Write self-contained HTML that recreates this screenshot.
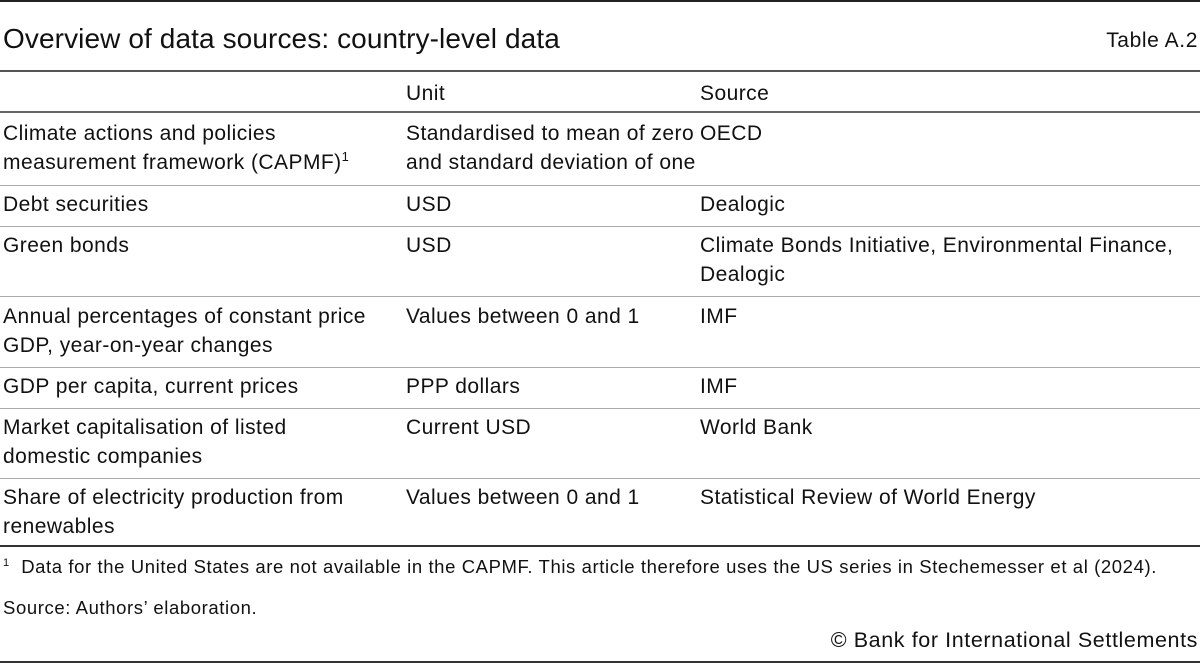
<!DOCTYPE html>
<html><head><meta charset="utf-8"><style>
body{margin:0;width:1200px;height:664px;position:relative;background:#fff;font-family:"Liberation Sans",sans-serif;color:#111;overflow:hidden}
.t{position:absolute;font-size:21px;letter-spacing:0.45px;line-height:29px;white-space:nowrap}
.l{position:absolute;left:0;width:1200px}
sup{font-size:13px;vertical-align:8px;line-height:0}
.f{font-size:18.5px;letter-spacing:0.6px;line-height:24px}
</style></head><body>
<div class="l" style="top:0;height:2px;background:#222"></div>
<div class="t" style="left:3px;top:22px;font-size:28px;letter-spacing:0.1px;line-height:34px">Overview of data sources: country-level data</div>
<div class="t" style="right:2px;top:26px;font-size:21px;letter-spacing:0.6px">Table A.2</div>
<div class="l" style="top:70px;height:2px;background:#555"></div>
<div class="t" style="left:406px;top:79px">Unit</div>
<div class="t" style="left:700px;top:79px">Source</div>
<div class="l" style="top:111px;height:2px;background:#666"></div>

<div class="t" style="left:3px;top:119px">Climate actions and policies<br>measurement framework (CAPMF)<sup>1</sup></div>
<div class="t" style="left:406px;top:119px">Standardised to mean of zero<br>and standard deviation of one</div>
<div class="t" style="left:700px;top:119px">OECD</div>
<div class="l" style="top:185px;height:1px;background:#aaa"></div>

<div class="t" style="left:3px;top:190px">Debt securities</div>
<div class="t" style="left:406px;top:190px">USD</div>
<div class="t" style="left:700px;top:190px">Dealogic</div>
<div class="l" style="top:226px;height:1px;background:#aaa"></div>

<div class="t" style="left:3px;top:231px">Green bonds</div>
<div class="t" style="left:406px;top:231px">USD</div>
<div class="t" style="left:700px;top:231px">Climate Bonds Initiative, Environmental Finance,<br>Dealogic</div>
<div class="l" style="top:296px;height:1px;background:#aaa"></div>

<div class="t" style="left:3px;top:302px">Annual percentages of constant price<br>GDP, year-on-year changes</div>
<div class="t" style="left:406px;top:302px">Values between 0 and 1</div>
<div class="t" style="left:700px;top:302px">IMF</div>
<div class="l" style="top:367px;height:1px;background:#aaa"></div>

<div class="t" style="left:3px;top:372px">GDP per capita, current prices</div>
<div class="t" style="left:406px;top:372px">PPP dollars</div>
<div class="t" style="left:700px;top:372px">IMF</div>
<div class="l" style="top:408px;height:1px;background:#aaa"></div>

<div class="t" style="left:3px;top:413px">Market capitalisation of listed<br>domestic companies</div>
<div class="t" style="left:406px;top:413px">Current USD</div>
<div class="t" style="left:700px;top:413px">World Bank</div>
<div class="l" style="top:478px;height:1px;background:#aaa"></div>

<div class="t" style="left:3px;top:483px">Share of electricity production from<br>renewables</div>
<div class="t" style="left:406px;top:483px">Values between 0 and 1</div>
<div class="t" style="left:700px;top:483px">Statistical Review of World Energy</div>
<div class="l" style="top:545px;height:2px;background:#333"></div>

<div class="t f" style="left:3px;top:555px"><sup style="font-size:11px;vertical-align:7px">1</sup>&nbsp; Data for the United States are not available in the CAPMF. This article therefore uses the US series in Stechemesser et al (2024).</div>
<div class="t f" style="left:3px;top:596px">Source: Authors’ elaboration.</div>
<div class="t" style="right:2px;top:626px;font-size:21.5px;letter-spacing:0.6px;line-height:28px">© Bank for International Settlements</div>
<div class="l" style="top:661px;height:2px;background:#333"></div>
</body></html>
